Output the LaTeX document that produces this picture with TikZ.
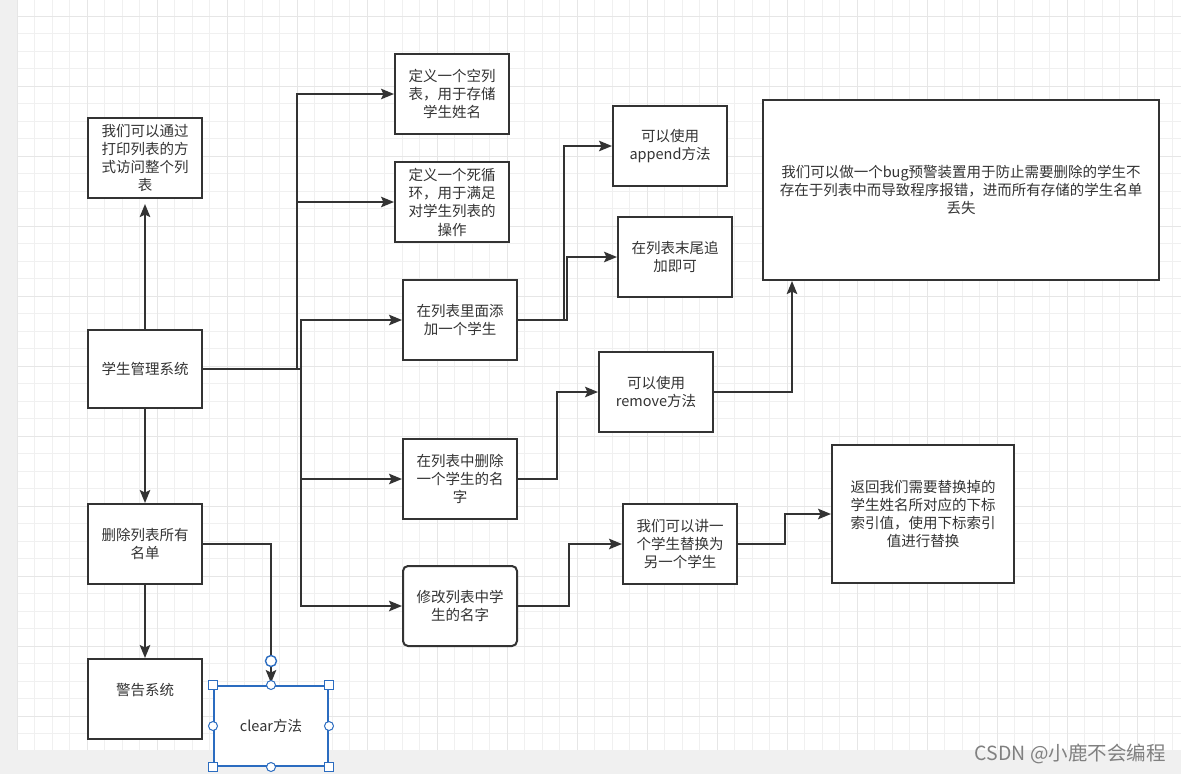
\documentclass[tikz,border=0pt]{standalone}
\usepackage{fontspec}
\newfontfamily\cjk{Noto Sans CJK SC}
\usetikzlibrary{arrows.meta}
\definecolor{linec}{HTML}{333333}
\definecolor{selblue}{HTML}{2B6CC0}
\definecolor{gridminor}{HTML}{F0F0F0}
\definecolor{gridmajor}{HTML}{E6E6E6}
\definecolor{panel}{HTML}{F0F0F0}

\begin{document}
\begin{tikzpicture}[x=1pt,y=-1pt,
        box/.style={
        draw=linec, line width=2pt, fill=white,
        minimum width=114pt, minimum height=80pt,
        inner sep=0pt, align=center, text=linec,
        font=\cjk\fontsize{14.5}{18.3}\selectfont},
        arr/.style={draw=linec, line width=2pt,
        -{Stealth[length=13pt,width=10.5pt,inset=2.5pt]}},
        handle/.style={draw=selblue, fill=white, line width=1pt, inner sep=0pt},
        ]
        \useasboundingbox (0,0) rectangle (1181,774);

        % canvas and grid
        \fill[panel] (0,0) rectangle (1181,774);
        \fill[white] (17,0) rectangle (1181,750);
        \foreach \i in {0,...,66}
            \draw[gridminor, line width=1pt] ({17+17.5*\i},0) -- ({17+17.5*\i},750);
        \foreach \j in {0,...,41}
            \draw[gridminor, line width=1pt] (17,{16+17.5*\j}) -- (1181,{16+17.5*\j});
        \foreach \i in {0,...,16}
            \draw[gridmajor, line width=1pt] ({17+70*\i},0) -- ({17+70*\i},750);
        \foreach \j in {0,...,10}
            \draw[gridmajor, line width=1pt] (17,{16+70*\j}) -- (1181,{16+70*\j});

        % boxes
        \node (main) [box, minimum height=78pt] at (145,369) {学生管理系统};
        \node (print) [box] at (145,158)
            {我们可以通过\\打印列表的方\\式访问整个列\\表};
        \node (emptylist) [box] at (452,94) {定义一个空列\\表，用于存储\\学生姓名};
        \node (loop) [box] at (452,202) {定义一个死循\\环，用于满足\\对学生列表的\\操作};
        \node (add) [box] at (460,320) {在列表里面添\\加一个学生};
        \node (append) [box] at (670,146) {可以使用\\append方法};
        \node (tail) [box] at (675,257) {在列表末尾追\\加即可};
        \node (bugbox) [box, minimum width=396pt, minimum height=180pt] at (961,190)
            {我们可以做一个bug预警装置用于防止需要删除的学生不\\存在于列表中而导致程序报错，进而所有存储的学生名单\\丢失};
        \node (del) [box] at (460,479) {在列表中删除\\一个学生的名\\字};
        \node (remove) [box] at (656,392) {可以使用\\remove方法};
        \node (modify) [box, rounded corners=5pt] at (460,606) {修改列表中学\\生的名字};
        \node (replace) [box] at (680,544) {我们可以讲一\\个学生替换为\\另一个学生};
        \node (index) [box, minimum width=182pt, minimum height=138pt] at (923,514)
            {返回我们需要替换掉的\\学生姓名所对应的下标\\索引值，使用下标索引\\值进行替换};
        \node (delall) [box] at (145,544) {删除列表所有\\名单};
        \node (warn) [box] at (145,699) {};
        \node [text=linec, font=\cjk\fontsize{14.5}{18.3}\selectfont] at (145,690) {警告系统};
        \node (clear) [box, draw=selblue, line width=2pt] at (271,726) {clear方法};

        % bend points
        \coordinate (trunkup) at (297,369);
        \coordinate (trunkdown) at (301,369);
        \coordinate (bendA) at (564,320);
        \coordinate (bendB) at (567,320);
        \coordinate (bendC) at (557,479);
        \coordinate (bendD) at (792,392);
        \coordinate (bendE) at (569,606);
        \coordinate (bendF) at (785,544);
        \coordinate (bendG) at (271,544);

        % connectors
        \draw[arr, shorten >=5pt] (main.north) -- (print.south);
        \draw[arr] (main.south) -- (delall.north);
        \draw[arr] (delall.south) -- (warn.north);
        \draw[arr] (main.east) -- (trunkup) |- (emptylist.west);
        \draw[arr] (main.east) -- (trunkup) |- (loop.west);
        \draw[arr] (main.east) -- (trunkdown) |- (add.west);
        \draw[arr] (main.east) -- (trunkdown) |- (del.west);
        \draw[arr] (main.east) -- (trunkdown) |- (modify.west);
        \draw[arr] (add.east) -- (bendA) |- (append.west);
        \draw[arr] (add.east) -- (bendB) |- (tail.west);
        \draw[arr] (del.east) -- (bendC) |- (remove.west);
        \draw[arr] (remove.east) -- (bendD) -- (bendD |- bugbox.south);
        \draw[arr] (modify.east) -- (bendE) |- (replace.west);
        \draw[arr] (replace.east) -- (bendF) |- (index.west);
        \draw[arr, line width=1.6pt, shorten >=2pt] (delall.east) -- (bendG) -- (clear.north);

        % selection handles
        \node (endpt) [handle, circle, line width=1.4pt, minimum size=11pt] at (271,661) {};
        \foreach \a in {north west, north east, south west, south east}
            \node [handle, rectangle, minimum size=9pt] at (clear.\a) {};
        \foreach \a in {north, south, east, west}
            \node [handle, circle, minimum size=9pt] at (clear.\a) {};

        % watermark
        \node (mark) [anchor=east, inner sep=0pt, text=black!50,
            font=\cjk\fontsize{19.5}{20}\selectfont] at (1166,754) {CSDN @小鹿不会编程};
    \end{tikzpicture}
\end{document}
